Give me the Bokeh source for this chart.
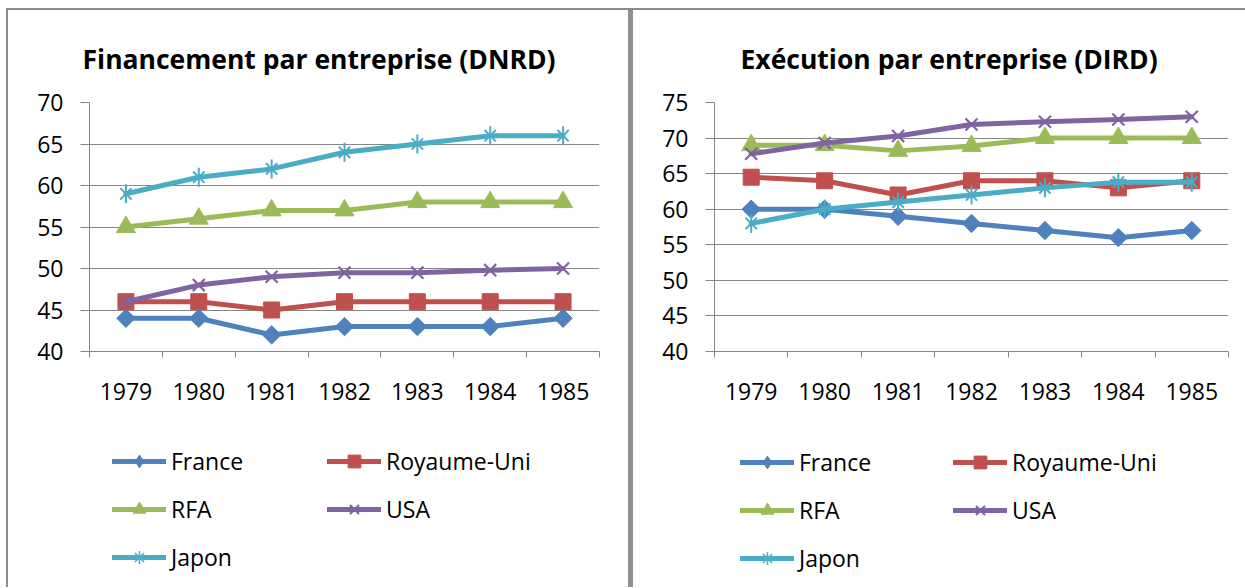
import numpy as np
from bokeh.plotting import figure
from bokeh.models import FixedTicker, Legend, LegendItem, Div, Range1d
from bokeh.layouts import row, column
from bokeh.embed import file_html
from bokeh.resources import INLINE

# ---------------- data ----------------
years = [1979, 1980, 1981, 1982, 1983, 1984, 1985]
year_labels = ["1979", "1980", "1981", "1982", "1983", "1984", "1985"]
series_names = ["France", "Royaume-Uni", "RFA", "USA", "Japon"]

dnrd_france = [44, 44, 42, 43, 43, 43, 44]
dnrd_royaume_uni = [46, 46, 45, 46, 46, 46, 46]
dnrd_rfa = [55, 56, 57, 57, 58, 58, 58]
dnrd_usa = [46, 48, 49, 49.5, 49.5, 49.8, 50]
dnrd_japon = [59, 61, 62, 64, 65, 66, 66]

dird_france = [60, 60, 59, 58, 57, 56, 57]
dird_royaume_uni = [64.5, 64, 62, 64, 64, 63, 64]
dird_rfa = [69, 69, 68.2, 68.9, 70, 70, 70]
dird_usa = [67.8, 69.3, 70.3, 71.9, 72.3, 72.6, 73]
dird_japon = [58, 60, 61, 62, 63, 63.8, 63.8]

dnrd_ticks = [40, 45, 50, 55, 60, 65, 70]
dird_ticks = [40, 45, 50, 55, 60, 65, 70, 75]

colors = ["#4F81BD", "#C0504D", "#9BBB59", "#8064A2", "#4BACC6"]

FONT = "Open Sans"
GRID = "#868686"


def draw_series(p, name, vals, col, legend_only=False):
    rends = [p.line(years, vals, line_color=col, line_width=5,
                    line_join="round", line_cap="round")]
    if name == "France":
        if legend_only:
            rends.append(p.scatter(years, vals, marker="diamond", size=16,
                                   fill_color=col, line_color=col))
        else:
            rends.append(p.scatter(years, vals, marker="square", angle=np.pi / 4,
                                   size=13, fill_color=col, line_color=col))
    elif name == "Royaume-Uni":
        rends.append(p.scatter(years, vals, marker="square", size=16,
                               fill_color=col, line_color=col))
    elif name == "RFA":
        rends.append(p.scatter(years, vals, marker="triangle", size=19,
                               fill_color=col, line_color=col))
    elif name == "USA":
        rends.append(p.scatter(years, vals, marker="x", size=17,
                               line_color=col, line_width=2.2))
    else:
        if legend_only:
            rends.append(p.scatter(years, vals, marker="asterisk", size=17,
                                   line_color=col, line_width=1.5))
        else:
            rends.append(p.scatter(years, vals, marker="x", size=16,
                                   line_color=col, line_width=2))
            rends.append(p.scatter(years, vals, marker="dash", angle=np.pi / 2,
                                   size=19, line_color=col, line_width=2))
    return rends


def make_chart(title, values, yticks, width, height, mb_left, mb_right,
               mb_top, mb_bottom, title_offset):
    p = figure(width=width, height=height, output_backend="svg",
               toolbar_location=None, tools="", margin=0,
               x_range=Range1d(years[0] - 0.5, years[-1] + 0.5),
               y_range=Range1d(yticks[0], yticks[-1]),
               min_border_left=mb_left, min_border_right=mb_right,
               min_border_top=mb_top, min_border_bottom=mb_bottom)
    p.outline_line_color = None
    p.background_fill_color = "white"
    p.border_fill_color = "white"

    p.title.text = title
    p.title.align = "left"
    p.title.vertical_align = "top"
    p.title.offset = title_offset
    p.title.standoff = 48
    p.title.text_font = FONT
    p.title.text_font_style = "bold"
    p.title.text_font_size = "26.5px"
    p.title.text_color = "#000000"

    xa = p.xaxis[0]
    xa.ticker = FixedTicker(ticks=years,
                            minor_ticks=[y - 0.5 for y in years] + [years[-1] + 0.5])
    xa.major_label_overrides = {y: lab for y, lab in zip(years, year_labels)}
    xa.major_tick_out = 0
    xa.major_tick_in = 0
    xa.minor_tick_out = 6
    xa.minor_tick_in = 0
    xa.minor_tick_line_color = GRID
    xa.axis_line_color = GRID
    xa.major_label_standoff = 25
    xa.major_label_text_font = FONT
    xa.major_label_text_font_size = "23px"
    xa.major_label_text_color = "#000000"

    ya = p.yaxis[0]
    ya.ticker = FixedTicker(ticks=yticks)
    ya.major_tick_out = 9
    ya.major_tick_in = 0
    ya.minor_tick_out = 0
    ya.minor_tick_in = 0
    ya.major_tick_line_color = GRID
    ya.axis_line_color = GRID
    ya.major_label_standoff = 17
    ya.major_label_text_font = FONT
    ya.major_label_text_font_size = "23px"
    ya.major_label_text_color = "#000000"

    p.xgrid.visible = False
    p.ygrid.grid_line_color = GRID
    p.ygrid.grid_line_width = 1

    for name, vals, col in zip(series_names, values, colors):
        draw_series(p, name, vals, col)
    return p


def make_legend_fig(values, width, height, loc1, loc2):
    # legend-only figure: the series glyphs lie outside its visible range
    q = figure(width=width, height=height, output_backend="svg",
               toolbar_location=None, tools="", margin=0,
               x_range=Range1d(0, 1), y_range=Range1d(0, 1),
               min_border=0, x_axis_type=None, y_axis_type=None)
    q.outline_line_color = None
    q.grid.visible = False
    q.background_fill_color = "white"
    q.border_fill_color = "white"
    items = {}
    for name, vals, col in zip(series_names, values, colors):
        items[name] = LegendItem(label=name,
                                 renderers=draw_series(q, name, vals, col, True))

    def add(names, loc):
        lg = Legend(items=[items[n] for n in names], location=loc,
                    orientation="vertical",
                    glyph_width=54, glyph_height=32, label_height=32,
                    label_standoff=5, spacing=16, padding=0, margin=0,
                    border_line_alpha=0, background_fill_alpha=0,
                    label_text_font=FONT, label_text_font_size="23px",
                    label_text_color="#000000")
        q.add_layout(lg, "center")

    add(["France", "RFA", "Japon"], loc1)
    add(["Royaume-Uni", "USA"], loc2)
    return q


H = 577
HC = 420
dnrd = [dnrd_france, dnrd_royaume_uni, dnrd_rfa, dnrd_usa, dnrd_japon]
dird = [dird_france, dird_royaume_uni, dird_rfa, dird_usa, dird_japon]

left = make_chart("Financement par entreprise (DNRD)", dnrd, dnrd_ticks,
                  620, HC, 81, 29, 92, HC - 92 - 249, -7)
right = make_chart("Exécution par entreprise (DIRD)", dird, dird_ticks,
                   612, HC, 81, 17, 92, HC - 92 - 249, 26)
left_leg = make_legend_fig(dnrd, 620, H - HC, (23, 14), (238, 62))
right_leg = make_legend_fig(dird, 612, H - HC, (26, 13), (239, 61))

BORDER = "#8c8c8c"
top_line = Div(text="", width=1239, height=2, margin=0,
               styles={"background-color": BORDER})
left_line = Div(text="", width=2, height=H, margin=0,
                styles={"background-color": BORDER})
sep = Div(text="", width=5, height=H, margin=0,
          styles={"background-color": "#909090"})

layout = column(top_line,
                row(left_line, column(left, left_leg, spacing=0), sep,
                    column(right, right_leg, spacing=0), spacing=0),
                spacing=0, margin=(8, 0, 0, 6))

open("out.html", "w").write(file_html(layout, INLINE))
